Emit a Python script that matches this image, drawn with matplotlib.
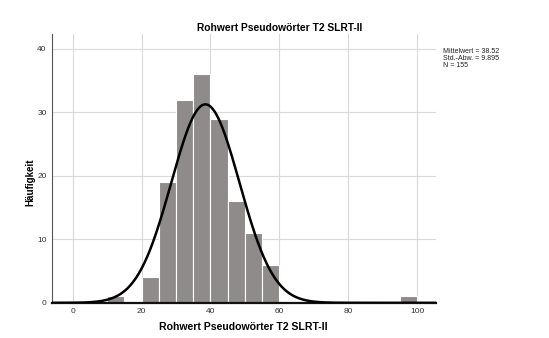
import numpy as np
import matplotlib.pyplot as plt

plt.rcParams['font.family'] = ['Liberation Sans', 'DejaVu Sans']

# Histogramm-Daten (Klassenbreite 5)
bin_left = [10, 20, 25, 30, 35, 40, 45, 50, 55, 95]
counts = [1, 4, 19, 32, 36, 29, 16, 11, 6, 1]
bin_width = 5
mittelwert = 38.52
std_abw = 9.895
n = 155
x_ticks = [0, 20, 40, 60, 80, 100]
y_ticks = [0, 10, 20, 30, 40]

fig = plt.figure(figsize=(5.49, 3.38), dpi=100)
ax = fig.add_axes([0.095, 0.104, 0.699, 0.795])

ax.bar(bin_left, counts, width=bin_width, align='edge', color='#8f8b8b',
       edgecolor='white', linewidth=0.8, zorder=2)

# Normalverteilungskurve
xs = np.linspace(-6, 105.5, 400)
ys = n * bin_width / (std_abw * np.sqrt(2 * np.pi)) * np.exp(-0.5 * ((xs - mittelwert) / std_abw) ** 2)
ax.plot(xs, ys, color='black', linewidth=1.8, zorder=3)

ax.set_xlim(-6, 105.5)
ax.set_ylim(0, 42.3)
ax.set_xticks(x_ticks)
ax.set_yticks(y_ticks)
ax.tick_params(labelsize=6, length=0, pad=4, colors='#333333')
ax.grid(True, color='#d9d9d9', linewidth=0.8, zorder=0)
ax.set_axisbelow(True)

for s in ['top', 'right']:
    ax.spines[s].set_visible(False)
ax.spines['left'].set_color('#555555')
ax.spines['left'].set_linewidth(0.8)
ax.spines['bottom'].set_color('#111111')
ax.spines['bottom'].set_linewidth(1.6)

# Titel und Achsenbeschriftungen
fig.text(0.51, 0.917, 'Rohwert Pseudowörter T2 SLRT-II', fontsize=7.4, fontweight='bold',
         ha='center', va='center')
fig.text(0.444, 0.032, 'Rohwert Pseudowörter T2 SLRT-II', fontsize=7.6, fontweight='bold',
         ha='center', va='center')
fig.text(0.055, 0.46, 'Häufigkeit', fontsize=7, fontweight='bold', rotation=90,
         ha='center', va='center')

fig.text(0.807, 0.858, 'Mittelwert = %.2f\nStd.-Abw. = %.3f\nN = %d' % (mittelwert, std_abw, n),
         fontsize=5, va='top', ha='left', linespacing=1.0, color='#222222')

fig.savefig('out.png', dpi=100)
